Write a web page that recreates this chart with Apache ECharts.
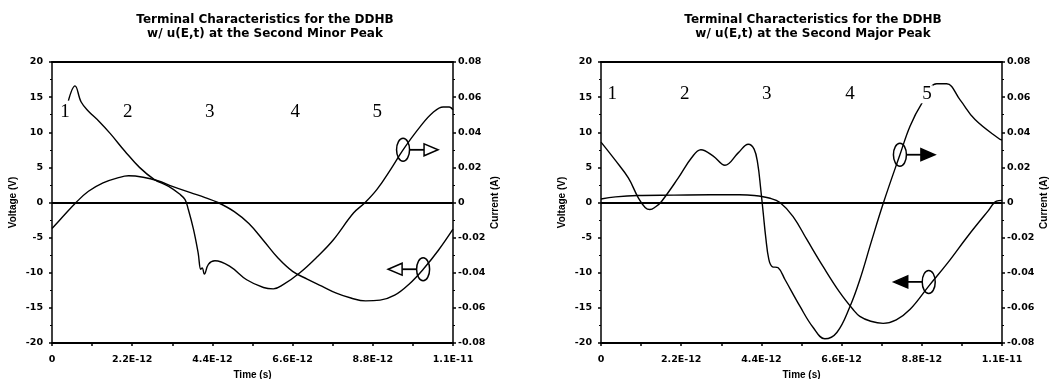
<!DOCTYPE html>
<html><head><meta charset="utf-8">
<script src="https://cdn.jsdelivr.net/npm/echarts@6/dist/echarts.min.js"></script>
<style>html,body{margin:0;padding:0;background:#fff}#c{width:1052px;height:379px}</style>
</head><body><div id="c"></div>
<script>
// ---- data (time in units of 1E-12 s) ----
const timeTickLabels = ['0','2.2E-12','4.4E-12','6.6E-12','8.8E-12','1.1E-11'];
const titles = ['Terminal Characteristics for the DDHB\nw/ u(E,t) at the Second Minor Peak',
                'Terminal Characteristics for the DDHB\nw/ u(E,t) at the Second Major Peak'];
const regionLabels = ['1','2','3','4','5'];

// Left chart (Second Minor Peak)
const leftVoltT = [0,0.3,0.66,1.0,1.4,1.8,2.1,2.5,2.9,3.3,3.8,4.2,4.55,5.0,5.4,5.8,6.2,6.6,7.0,7.4,7.8,8.2,8.6,9.0,9.4,9.8,10.2,10.6,11.0];
const leftVolt  = [-3.7,-2.0,0,1.6,2.8,3.5,3.8,3.6,3.1,2.3,1.4,0.7,0,-1.3,-3.0,-5.4,-7.9,-9.8,-10.9,-11.9,-12.9,-13.6,-14.0,-13.9,-13.2,-11.6,-9.4,-6.8,-3.8];
const leftCurT  = [0.45,0.63,0.8,1.0,1.3,1.6,2.0,2.4,2.8,3.2,3.5,3.65,3.74,3.88,4.01,4.08,4.12,4.18,4.29,4.47,4.88,5.34,5.80,6.07,6.34,6.8,7.3,7.72,8.27,8.59,8.92,9.3,9.63,10.1,10.45,10.73,10.9,11.0];
const leftCur   = [0.058,0.0664,0.0572,0.052,0.046,0.0392,0.0292,0.02,0.0132,0.0092,0.0048,0.0016,-0.004,-0.0152,-0.0288,-0.038,-0.0372,-0.0408,-0.0352,-0.0332,-0.0364,-0.044,-0.0484,-0.0492,-0.0468,-0.04,-0.0304,-0.0212,-0.006,0,0.0076,0.0192,0.03,0.0432,0.0512,0.0544,0.0544,0.0528];
const leftRegionT = [0.36,2.08,4.33,6.67,8.92];
const leftRegionV = 12.9;

// Right chart (Second Major Peak)
const rightVoltT = [0,0.4,1.0,2.0,3.0,3.8,4.2,4.64,4.91,5.27,5.65,6.09,6.55,6.91,7.10,7.4,7.74,8.1,8.48,8.99,9.51,10.06,10.62,10.85,11.0];
const rightVolt  = [0.5,0.8,1.0,1.05,1.1,1.1,1.0,0.6,0,-2.0,-5.3,-9.1,-12.8,-15.2,-16.2,-16.9,-17.2,-16.7,-15.2,-11.9,-8.6,-4.8,-1.2,0.2,0.3];
const rightCurT  = [0,0.38,0.75,1.02,1.21,1.34,1.5,1.66,2.12,2.49,2.74,3.08,3.40,3.77,4.04,4.2,4.3,4.38,4.45,4.52,4.6,4.69,4.86,5.05,5.46,5.82,6.14,6.47,6.83,7.10,7.42,7.75,8.20,8.48,8.80,9.21,9.48,9.85,10.26,10.94,11.0];
const rightCur   = [0.0344,0.0244,0.014,0.0028,-0.0028,-0.004,-0.0024,0.0006,0.014,0.0256,0.03,0.0264,0.0212,0.0284,0.0332,0.0304,0.022,0.008,-0.006,-0.02,-0.032,-0.0364,-0.0372,-0.044,-0.0592,-0.0712,-0.0776,-0.074,-0.0592,-0.044,-0.022,0,0.0272,0.0436,0.0564,0.0676,0.0676,0.0584,0.0472,0.036,0.0356];
const rightRegionT = [0.31,2.30,4.55,6.83,8.94];
const rightRegionV = 15.4;

// annotation anchors: [time, value, axis('V'|'I'), direction]
const leftArrows  = [[9.63, 0.03, 'I', 1], [10.18, -9.5, 'V', -1]];
const rightArrows = [[8.20, 0.0272, 'I', 1], [8.99, -11.3, 'V', -1]];

// ---- chart ----
const FONT = 'Liberation Sans';
const TFONT = 'DejaVu Sans';
const pairs = (ts, vs) => ts.map((t, i) => [t, vs[i]]);
const grids = [
  {left: 52, right: 599, top: 62, bottom: 36, containLabel: false, outerBoundsMode: 'none'},
  {left: 601, right: 50, top: 62, bottom: 36, containLabel: false, outerBoundsMode: 'none'}
];
const lblStyle = {color: '#000', fontSize: 9.5, fontWeight: 'bold', fontFamily: TFONT};
const nameStyle = {color: '#000', fontSize: 10, fontWeight: 'bold', fontFamily: FONT};

const xAxes = [], yAxes = [];
grids.forEach((g, gi) => {
  xAxes.push({
    type: 'value', gridIndex: gi, min: 0, max: 11, interval: 1.1, position: 'bottom',
    axisLine: {show: true, onZero: false, lineStyle: {color: '#000', width: 2}},
    axisTick: {show: true, length: 3, lineStyle: {color: '#000', width: 1.5}},
    axisLabel: Object.assign({margin: 12, formatter: v => {
      const k = Math.round(v / 1.1); return k % 2 === 0 ? timeTickLabels[k / 2] : ''; }}, lblStyle),
    splitLine: {show: false},
    name: 'Time (s)', nameLocation: 'middle', nameGap: 24, nameTextStyle: nameStyle
  });
  xAxes.push({
    type: 'value', gridIndex: gi, min: 0, max: 11, position: 'top',
    axisLine: {show: true, onZero: false, lineStyle: {color: '#000', width: 2}},
    axisTick: {show: false}, axisLabel: {show: false}, splitLine: {show: false}
  });
  yAxes.push({
    type: 'value', gridIndex: gi, min: -20, max: 20, interval: 5, position: 'left',
    axisLine: {show: true, onZero: false, lineStyle: {color: '#000', width: 1.5}},
    axisTick: {show: true, length: 3, lineStyle: {color: '#000', width: 1.5}},
    minorTick: {show: true, splitNumber: 2, length: 2, lineStyle: {color: '#000', width: 1.2}},
    axisLabel: Object.assign({margin: 9}, lblStyle),
    splitLine: {show: false},
    name: 'Voltage (V)', nameLocation: 'middle', nameRotate: 90, nameGap: 34, nameTextStyle: nameStyle
  });
  yAxes.push({
    type: 'value', gridIndex: gi, min: -0.08, max: 0.08, interval: 0.02, position: 'right',
    axisLine: {show: true, onZero: false, lineStyle: {color: '#000', width: 1.5}},
    axisTick: {show: true, length: 3, lineStyle: {color: '#000', width: 1.5}},
    minorTick: {show: true, splitNumber: 2, length: 2, lineStyle: {color: '#000', width: 1.2}},
    axisLabel: Object.assign({margin: 5, formatter: v => Math.abs(v) < 1e-9 ? '0' : v.toFixed(2)}, lblStyle),
    splitLine: {show: false},
    name: 'Current (A)', nameLocation: 'middle', nameRotate: 90, nameGap: 37, nameTextStyle: nameStyle
  });
});

const lineStyle = {color: '#000', width: 1.4};
function mk(data, xi, yi, withZero) {
  const s = {type: 'line', data, xAxisIndex: xi, yAxisIndex: yi, showSymbol: false, symbol: 'none',
    smooth: 0.4, lineStyle, silent: true, z: 3};
  if (withZero) s.markLine = {silent: true, symbol: 'none', label: {show: false},
    lineStyle: {color: '#000', width: 2, type: 'solid'}, data: [{yAxis: 0}]};
  return s;
}

const chart = echarts.init(document.getElementById('c'), null, {renderer: 'canvas'});
chart.setOption({
  animation: false,
  backgroundColor: '#fff',
  title: titles.map((t, i) => ({
    text: t, left: i === 0 ? 260 : 808, textAlign: 'center', top: 8,
    textStyle: {fontSize: 12, fontWeight: 'bold', fontFamily: TFONT, color: '#000', lineHeight: 14}
  })),
  grid: grids,
  xAxis: xAxes,
  yAxis: yAxes,
  series: [
    mk(pairs(leftVoltT, leftVolt), 0, 0, true),
    mk(pairs(leftCurT, leftCur), 0, 1, false),
    mk(pairs(rightVoltT, rightVolt), 2, 2, true),
    mk(pairs(rightCurT, rightCur), 2, 3, false)
  ]
});

// ---- annotations positioned through the axes ----
const g = [];
function addRegions(ts, v, xi, yi, whiteBg) {
  ts.forEach((t, i) => {
    const p = chart.convertToPixel({xAxisIndex: xi, yAxisIndex: yi}, [t, v]);
    if (whiteBg && i === 4) g.push({type: 'rect', z: 100, shape: {x: p[0] - 6, y: p[1] - 9, width: 12, height: 18}, style: {fill: '#fff'}});
    g.push({type: 'text', z: 101, x: p[0], y: p[1], style: {text: regionLabels[i], font: '19px "Liberation Serif"', fill: '#000', align: 'center', verticalAlign: 'middle'}});
  });
}
function addArrows(arr, xi, yiV, yiI, filled) {
  arr.forEach(a => {
    const p = chart.convertToPixel({xAxisIndex: xi, yAxisIndex: a[2] === 'V' ? yiV : yiI}, [a[0], a[1]]);
    const cx = p[0], cy = p[1], d = a[3];
    g.push({type: 'ellipse', z: 100, shape: {cx, cy, rx: 6.5, ry: 11.5}, style: {fill: 'none', stroke: '#000', lineWidth: 1.5}});
    g.push({type: 'line', z: 100, shape: {x1: cx + d * 6.5, y1: cy, x2: cx + d * 21, y2: cy}, style: {stroke: '#000', lineWidth: 1.8}});
    const b = cx + d * 21, tip = cx + d * 35;
    g.push({type: 'polygon', z: 100, shape: {points: [[b, cy - 6], [b, cy + 6], [tip, cy]]},
      style: {fill: filled ? '#000' : '#fff', stroke: '#000', lineWidth: 1.5}});
  });
}
addRegions(leftRegionT, leftRegionV, 0, 0, false);
addRegions(rightRegionT, rightRegionV, 2, 2, true);
addArrows(leftArrows, 0, 0, 1, false);
addArrows(rightArrows, 2, 2, 3, true);
chart.setOption({graphic: g});
</script>
</body></html>
